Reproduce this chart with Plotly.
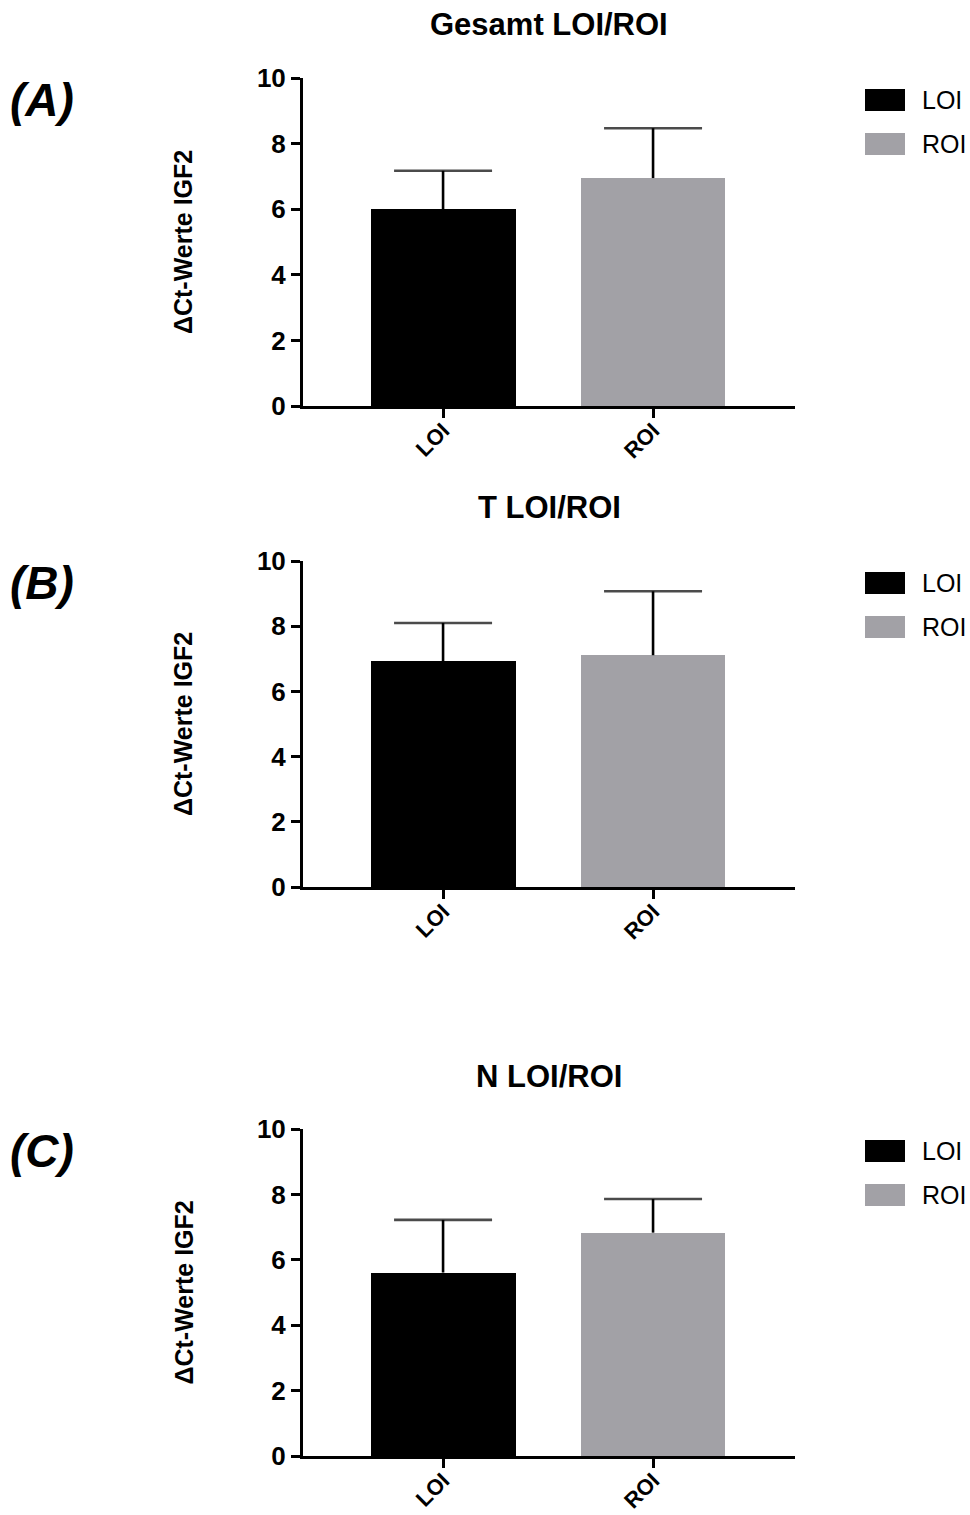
import plotly.graph_objects as go

# ---------------- data ----------------
categories = ["LOI", "ROI"]
panel_titles = ["Gesamt LOI/ROI", "T LOI/ROI", "N LOI/ROI"]
panel_labels = ["(A)", "(B)", "(C)"]
means_A = [6.00, 6.95]
sd_A = [1.17, 1.52]
means_B = [6.93, 7.11]
sd_B = [1.17, 1.96]
means_C = [5.61, 6.83]
sd_C = [1.61, 1.03]
y_ticks = [0, 2, 4, 6, 8, 10]
y_title = "ΔCt-Werte IGF2"
bar_colors = ["#000000", "#a2a1a6"]

means = [means_A, means_B, means_C]
sds = [sd_A, sd_B, sd_C]

# ---------------- layout helpers (pixels) ----------------
W, H = 970, 1515
FONT = "Liberation Sans, Arial, sans-serif"
panel_tops = [78, 561, 1129]
panel_bottoms = [406, 887, 1456]
x_left, x_right = 303, 795


def px_x(p):
    return p / W


def px_y(p):
    return 1 - p / H


fig = go.Figure()
annotations = []
shapes = []

for i in range(3):
    n = "" if i == 0 else str(i + 1)
    xa, ya = "x" + n, "y" + n
    fig.add_trace(go.Bar(
        x=categories, y=means[i], width=0.69,
        marker=dict(color=bar_colors, line=dict(width=0)),
        xaxis=xa, yaxis=ya, showlegend=False, hoverinfo="x+y",
    ))
    for j, cat in enumerate(categories):
        m, s = means[i][j], sds[i][j]
        fig.add_trace(go.Scatter(
            x=[cat, cat], y=[m, m + s], mode="lines+markers",
            line=dict(color="black", width=2.6),
            marker=dict(symbol="line-ew", size=[0, 70], color="black",
                        line=dict(color="black", width=2.6)),
            xaxis=xa, yaxis=ya, showlegend=False, hoverinfo="skip",
        ))
    top, bot = panel_tops[i], panel_bottoms[i]
    fig.update_layout({
        "xaxis" + n: dict(
            domain=[px_x(x_left), px_x(x_right)], anchor=ya,
            type="category", categoryarray=categories,
            range=[-0.667, 1.676], automargin=False,
            showline=True, linecolor="black", linewidth=3,
            ticks="outside", ticklen=9, tickwidth=2.6, tickcolor="black",
            tickangle=-45, showgrid=False, zeroline=False,
            ticklabelstandoff=-9,
            tickfont=dict(family=FONT, size=22, color="black", weight="bold"),
        ),
        "yaxis" + n: dict(
            domain=[px_y(bot), px_y(top)], anchor=xa,
            range=[0, 10], tickvals=y_ticks, automargin=False,
            showline=True, linecolor="black", linewidth=3,
            ticks="outside", ticklen=9, tickwidth=2.6, tickcolor="black",
            showgrid=False, zeroline=False,
            tickfont=dict(family=FONT, size=26, color="black", weight="bold"),
        ),
    })
    # panel title
    annotations.append(dict(
        text="<b>" + panel_titles[i] + "</b>", x=px_x((x_left + x_right) / 2),
        y=px_y(top - 53), xref="paper", yref="paper", showarrow=False,
        xanchor="center", yanchor="middle",
        font=dict(family=FONT, size=31, color="black"),
    ))
    # panel label
    annotations.append(dict(
        text="<b><i>" + panel_labels[i] + "</i></b>", x=px_x(8),
        y=px_y(top + 22), xref="paper", yref="paper", showarrow=False,
        xanchor="left", yanchor="middle",
        font=dict(family=FONT, size=46, color="black"),
    ))
    # y axis title
    annotations.append(dict(
        text="<b>" + y_title + "</b>", x=px_x(183), y=px_y((top + bot) / 2),
        xref="paper", yref="paper", showarrow=False, textangle=-90,
        xanchor="center", yanchor="middle",
        font=dict(family=FONT, size=25, color="black"),
    ))
    # legend
    for j, cat in enumerate(categories):
        cy = top + 22 + 44 * j
        shapes.append(dict(
            type="rect", xref="paper", yref="paper",
            x0=px_x(865), x1=px_x(905), y0=px_y(cy - 11), y1=px_y(cy + 11),
            fillcolor=bar_colors[j], line=dict(width=0),
        ))
        annotations.append(dict(
            text=cat, x=px_x(920), y=px_y(cy), xref="paper", yref="paper",
            showarrow=False, xanchor="left", yanchor="middle",
            font=dict(family=FONT, size=25, color="black"),
        ))

fig.update_layout(
    width=W, height=H, margin=dict(l=0, r=0, t=0, b=0, pad=0, autoexpand=False),
    paper_bgcolor="white", plot_bgcolor="white",
    annotations=annotations, shapes=shapes, showlegend=False,
    bargap=0,
)

fig.write_html(
    "out.html",
    config={"displayModeBar": False},
    post_script="document.body.style.margin='0';document.body.style.overflow='hidden';",
)
